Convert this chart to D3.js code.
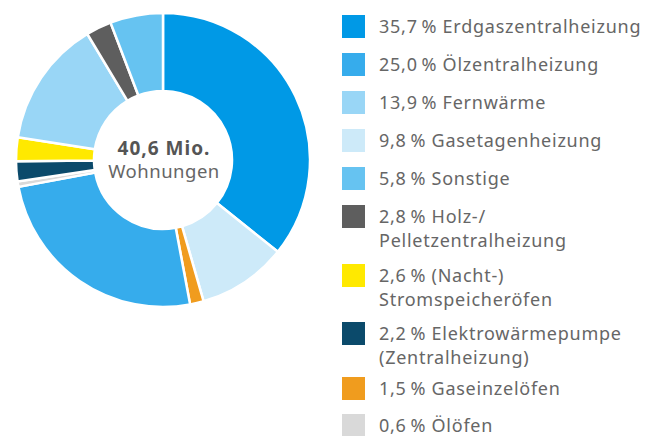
<!DOCTYPE html>
<html>
<head>
<meta charset="utf-8">
<script src="https://cdn.jsdelivr.net/npm/d3@7"></script>
<style>
  body { margin: 0; background: #fff; }
  svg text { font-family: "Noto Sans", Lato, sans-serif; }
</style>
</head>
<body>
<div id="chart"></div>
<script>
// data: share of heating types (slice order = clockwise from top)
var sliceNames = ["Erdgaszentralheizung", "Gasetagenheizung", "Gaseinzelöfen", "Ölzentralheizung",
                  "Ölöfen", "Elektrowärmepumpe", "Nachtspeicher", "Fernwärme", "Holz", "Sonstige"];
var sliceValues = [35.7, 9.8, 1.5, 25.0, 0.6, 2.2, 2.6, 13.9, 2.8, 5.8];
var sliceColors = ["#0099e6", "#cdeaf9", "#f09c1e", "#36acec", "#d9d9d9",
                   "#0b4a6b", "#ffe900", "#99d6f6", "#5e5e5e", "#66c3f1"];

// legend order (as printed next to the chart)
var legendKeys = ["Erdgaszentralheizung", "Ölzentralheizung", "Fernwärme", "Gasetagenheizung", "Sonstige",
                  "Holz", "Nachtspeicher", "Elektrowärmepumpe", "Gaseinzelöfen", "Ölöfen"];
var legendLines = [
  ["35,7\u2009% Erdgaszentralheizung"],
  ["25,0\u2009% Ölzentralheizung"],
  ["13,9\u2009% Fernwärme"],
  ["9,8\u2009% Gasetagenheizung"],
  ["5,8\u2009% Sonstige"],
  ["2,8\u2009% Holz-/", "Pelletzentralheizung"],
  ["2,6\u2009% (Nacht-)", "Stromspeicheröfen"],
  ["2,2\u2009% Elektrowärmepumpe", "(Zentralheizung)"],
  ["1,5\u2009% Gaseinzelöfen"],
  ["0,6\u2009% Ölöfen"]
];
var centerTitle = "40,6 Mio.";
var centerSub = "Wohnungen";

var svgwidth = 659, svgheight = 436;
var cx = 163, cy = 160;
var outerR = 147, innerR = 69;

var svg = d3.select("#chart").append("svg")
    .attr("width", svgwidth)
    .attr("height", svgheight);

var colorOf = d3.scaleOrdinal().domain(sliceNames).range(sliceColors);

var pie = d3.pie().sort(null).value(function(d) { return d.value; });
var arc = d3.arc().innerRadius(innerR).outerRadius(outerR);

var pieData = sliceNames.map(function(n, i) { return { name: n, value: sliceValues[i] }; });

var donut = svg.append("g").attr("transform", `translate(${cx},${cy})`);
donut.selectAll("path")
    .data(pie(pieData))
    .enter()
    .append("path")
    .attr("d", arc)
    .attr("fill", d => colorOf(d.data.name))
    .attr("stroke", "#fff")
    .attr("stroke-width", 2.5);

donut.append("text")
    .attr("text-anchor", "middle")
    .attr("x", 1)
    .attr("y", -5)
    .attr("font-size", 19)
    .attr("font-weight", "bold")
    .attr("letter-spacing", "1px")
    .attr("fill", "#555")
    .text(centerTitle);
donut.append("text")
    .attr("text-anchor", "middle")
    .attr("x", 1)
    .attr("y", 18)
    .attr("font-size", 18.5)
    .attr("letter-spacing", "0.5px")
    .attr("fill", "#666")
    .text(centerSub);

// legend
var rowY = [15, 53, 91, 129, 167, 205, 264, 322, 377, 414];
var legend = svg.append("g").attr("transform", "translate(342,0)");
var items = legend.selectAll("g")
    .data(legendKeys)
    .enter()
    .append("g")
    .attr("transform", (d, i) => `translate(0,${rowY[i]})`);

items.append("rect")
    .attr("width", 23)
    .attr("height", 23)
    .attr("fill", d => colorOf(d));

items.append("text")
    .attr("x", 37)
    .attr("y", 18)
    .attr("font-size", 18)
    .attr("letter-spacing", "0.75px")
    .attr("fill", "#666")
    .selectAll("tspan")
    .data((d, i) => legendLines[i])
    .enter()
    .append("tspan")
    .attr("x", 37)
    .attr("dy", (d, j) => j === 0 ? 0 : 24)
    .text(d => d);
</script>
</body>
</html>
